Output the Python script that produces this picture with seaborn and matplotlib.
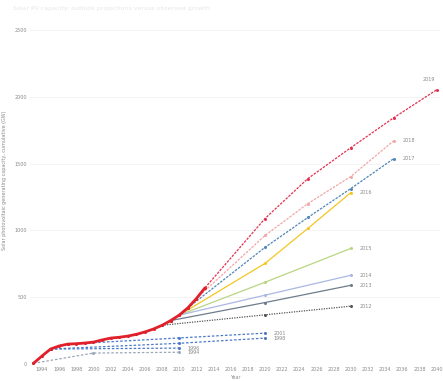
import matplotlib
matplotlib.use("Agg")
import matplotlib.pyplot as plt
import seaborn as sns
import pandas as pd

sns.set_theme(style="white")
plt.rcParams["font.family"] = ["DejaVu Sans"]

# Observed cumulative capacity
actual_years = [1993, 1994, 1995, 1996, 1997, 1998, 1999, 2000, 2001, 2002, 2003,
                2004, 2005, 2006, 2007, 2008, 2009, 2010, 2011, 2012, 2013]
actual_values = [5, 60, 112, 135, 149, 152, 157, 164, 180, 194, 200,
                 209, 222, 240, 262, 290, 325, 366, 420, 490, 570]

# Outlook editions: years and projected values
proj_labels = ["2019", "2018", "2017", "2016", "2015", "2014", "2013", "2012",
               "2001", "1998", "1996", "1994"]
proj_years = [
    [2013, 2020, 2025, 2030, 2035, 2040],
    [2012, 2020, 2025, 2030, 2035],
    [2011, 2020, 2025, 2030, 2035],
    [2010, 2020, 2025, 2030],
    [2010, 2020, 2030],
    [2010, 2020, 2030],
    [2009, 2020, 2030],
    [2008, 2020, 2030],
    [1997, 2010, 2020],
    [1995, 2010, 2020],
    [1995, 2010],
    [1993, 2000, 2010],
]
proj_values = [
    [570, 1089, 1388, 1619, 1843, 2052],
    [490, 962, 1201, 1403, 1671],
    [420, 873, 1097, 1313, 1537],
    [366, 753, 1015, 1283],
    [366, 612, 865],
    [366, 515, 664],
    [325, 460, 589],
    [290, 368, 433],
    [149, 195, 231],
    [112, 155, 194],
    [112, 119],
    [5, 82, 88],
]
proj_colors = ["#e3304f", "#f2a6a6", "#4f86b8", "#f3c623", "#b9d582", "#aab8e2",
               "#6f7c8c", "#555555", "#4a78c8", "#4a78c8", "#4a78c8", "#9aa7b8"]
proj_styles = [(0, (2, 1)), (0, (2, 1)), (0, (2, 1)), "-", "-", "-",
               "-", (0, (1, 1)), (0, (2, 1.5)), (0, (2, 1.5)), (0, (2, 1.5)), (0, (2, 1.5))]

y_ticks = [0, 500, 1000, 1500, 2000, 2500]
x_ticks = list(range(1994, 2041, 2))

fig = plt.figure(figsize=(4.43, 3.81), dpi=100)
ax = fig.add_axes([30 / 443, 17 / 381, 410 / 443, 334 / 381])

for lab, xs, ys, col, ls in zip(proj_labels, proj_years, proj_values, proj_colors, proj_styles):
    df = pd.DataFrame({"year": xs, "value": ys})
    sns.lineplot(data=df, x="year", y="value", ax=ax, color=col, linestyle=ls,
                 linewidth=0.9, marker="o", markersize=2.2, markeredgewidth=0)
    if xs[-1] >= 2040:
        # the last edition runs to the right edge, so its tag sits above the end point
        ax.text(xs[-1] - 0.2, ys[-1] + 60, lab, fontsize=3.5, color="#8a8a8a",
                va="bottom", ha="right")
    else:
        ax.text(xs[-1] + 1.0, ys[-1], lab, fontsize=3.5, color="#8a8a8a",
                va="center", ha="left")

act = pd.DataFrame({"year": actual_years, "value": actual_values})
sns.lineplot(data=act, x="year", y="value", ax=ax, color="#e0202a", linewidth=2.0,
             marker="o", markersize=2.2, markeredgewidth=0)

ax.set_xlim(1992.6, 2040.4)
ax.set_ylim(0, 2500)
ax.set_xticks(x_ticks)
ax.set_xticklabels([str(v) for v in x_ticks])
ax.set_yticks(y_ticks)
ax.set_yticklabels([str(v) for v in y_ticks])
ax.tick_params(axis="both", labelsize=3.5, labelcolor="#8a8a8a", length=0, pad=2)
ax.grid(axis="y", color="#f2f2f2", linewidth=0.6)
for s in ax.spines.values():
    s.set_visible(False)
ax.set_xlabel("Year", fontsize=3.5, color="#8a8a8a", labelpad=2)
ax.set_ylabel("Solar photovoltaic generating capacity, cumulative (GW)", fontsize=3.5,
              color="#8a8a8a")
ax.yaxis.set_label_coords(-0.055, 0.55)
fig.text(0.03, 0.978, "Solar PV capacity: outlook projections versus observed growth",
         fontsize=4.5, color="#e6e6e6", va="center")

fig.savefig("out.png", dpi=100, facecolor="white")
